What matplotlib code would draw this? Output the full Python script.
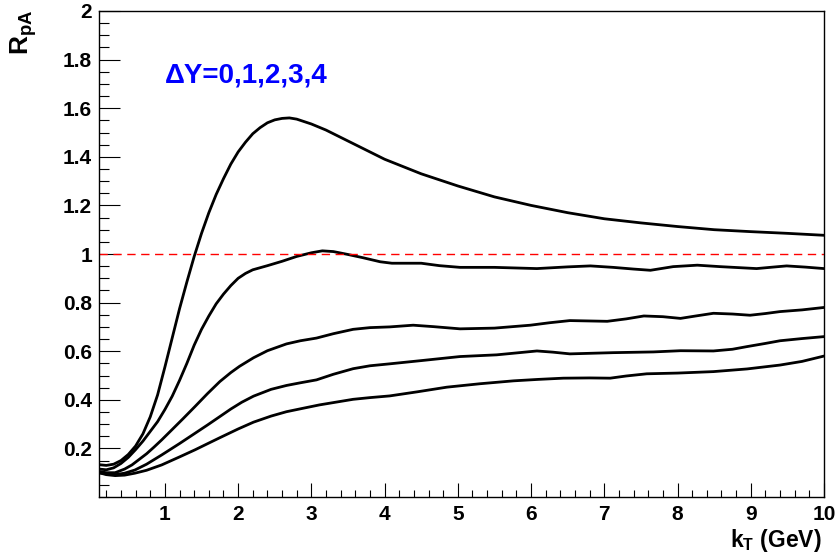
import matplotlib
matplotlib.use("Agg")
import matplotlib.pyplot as plt
from matplotlib.ticker import MultipleLocator
import numpy as np

plt.rcParams['font.family'] = ['Liberation Sans', 'DejaVu Sans']
plt.rcParams['font.weight'] = 'bold'
plt.rcParams['mathtext.fontset'] = 'custom'
plt.rcParams['mathtext.bf'] = 'Liberation Sans:bold'
plt.rcParams['mathtext.rm'] = 'Liberation Sans:bold'

# R_pA vs k_T for rapidity intervals dY = 0..4 (top to bottom)
x_dy0 = [0.1, 0.2, 0.3, 0.4, 0.5, 0.6, 0.7, 0.8, 0.9, 1.0, 1.1, 1.2, 1.3, 1.4, 1.5, 1.6, 1.7,
         1.8, 1.9, 2.0, 2.1, 2.2, 2.3, 2.4, 2.5, 2.6, 2.7, 2.8, 2.9, 3.0, 3.2, 3.4, 3.6, 3.8,
         4.0, 4.25, 4.5, 4.75, 5.0, 5.5, 6.0, 6.5, 7.0, 7.5, 8.0, 8.5, 9.0, 9.5, 10.0]
y_dy0 = [0.133, 0.130, 0.135, 0.150, 0.175, 0.21, 0.26, 0.33, 0.42, 0.535, 0.655, 0.775, 0.885,
         0.99, 1.085, 1.17, 1.245, 1.31, 1.37, 1.42, 1.46, 1.495, 1.52, 1.54, 1.552, 1.558, 1.56,
         1.555, 1.545, 1.535, 1.51, 1.48, 1.45, 1.42, 1.39, 1.36, 1.33, 1.305, 1.28, 1.235, 1.20,
         1.17, 1.145, 1.128, 1.113, 1.10, 1.092, 1.085, 1.077]

x_dy1 = [0.1, 0.2, 0.3, 0.4, 0.5, 0.6, 0.7, 0.8, 0.9, 1.0, 1.1, 1.2, 1.3, 1.4, 1.5, 1.6, 1.7,
         1.8, 1.9, 2.0, 2.1, 2.2, 2.4, 2.6, 2.8, 3.0, 3.15, 3.3, 3.5, 3.7, 3.94, 4.1, 4.5, 4.75,
         5.03, 5.5, 6.08, 6.5, 6.81, 7.12, 7.4, 7.63, 7.94, 8.27, 8.58, 9.08, 9.3, 9.49, 9.75, 10.0]
y_dy1 = [0.115, 0.112, 0.12, 0.138, 0.163, 0.195, 0.23, 0.27, 0.31, 0.36, 0.415, 0.48, 0.55,
         0.625, 0.69, 0.745, 0.795, 0.835, 0.87, 0.90, 0.92, 0.935, 0.952, 0.97, 0.99, 1.005,
         1.013, 1.01, 0.998, 0.985, 0.968, 0.962, 0.962, 0.952, 0.945, 0.945, 0.94, 0.947, 0.951,
         0.945, 0.938, 0.933, 0.948, 0.954, 0.948, 0.94, 0.946, 0.951, 0.946, 0.94]

x_dy2 = [0.1, 0.2, 0.32, 0.45, 0.55, 0.637, 0.75, 0.85, 0.956, 1.1, 1.25, 1.41, 1.58, 1.75, 1.9,
         2.02, 2.21, 2.4, 2.66, 2.85, 3.07, 3.3, 3.57, 3.8, 4.07, 4.39, 4.67, 5.03, 5.5, 5.99,
         6.25, 6.53, 7.04, 7.3, 7.54, 7.8, 8.04, 8.25, 8.49, 8.75, 8.99, 9.2, 9.4, 9.7, 10.0]
y_dy2 = [0.105, 0.100, 0.100, 0.115, 0.132, 0.152, 0.178, 0.205, 0.235, 0.278, 0.323, 0.372,
         0.425, 0.475, 0.512, 0.538, 0.573, 0.602, 0.63, 0.643, 0.654, 0.672, 0.69, 0.697, 0.70,
         0.707, 0.701, 0.692, 0.695, 0.707, 0.717, 0.726, 0.723, 0.733, 0.745, 0.742, 0.735,
         0.745, 0.756, 0.753, 0.748, 0.755, 0.763, 0.77, 0.78]

x_dy3 = [0.1, 0.2, 0.32, 0.45, 0.59, 0.75, 0.956, 1.2, 1.41, 1.58, 1.75, 1.9, 2.05, 2.21, 2.45,
         2.66, 2.85, 3.07, 3.3, 3.57, 3.8, 4.07, 4.49, 5.03, 5.53, 6.08, 6.3, 6.53, 7.12, 7.67,
         8.04, 8.49, 8.75, 8.95, 9.2, 9.4, 9.7, 10.0]
y_dy3 = [0.10, 0.095, 0.092, 0.098, 0.111, 0.135, 0.173, 0.22, 0.262, 0.296, 0.331, 0.362, 0.39,
         0.415, 0.443, 0.459, 0.47, 0.482, 0.505, 0.528, 0.54, 0.548, 0.561, 0.578, 0.585, 0.601,
         0.596, 0.589, 0.594, 0.597, 0.602, 0.601, 0.608, 0.619, 0.632, 0.643, 0.652, 0.66]

x_dy4 = [0.1, 0.2, 0.32, 0.45, 0.59, 0.75, 0.956, 1.2, 1.41, 1.6, 1.75, 2.0, 2.21, 2.45, 2.66,
         2.9, 3.11, 3.35, 3.57, 3.8, 4.07, 4.45, 4.85, 5.3, 5.76, 6.1, 6.44, 6.8, 7.08, 7.3, 7.58,
         8.0, 8.49, 8.95, 9.4, 9.7, 10.0]
y_dy4 = [0.10, 0.092, 0.088, 0.09, 0.098, 0.11, 0.132, 0.165, 0.194, 0.222, 0.244, 0.28, 0.308,
         0.333, 0.351, 0.366, 0.379, 0.391, 0.402, 0.409, 0.416, 0.433, 0.452, 0.466, 0.478, 0.484,
         0.489, 0.49, 0.489, 0.498, 0.507, 0.51, 0.516, 0.527, 0.543, 0.558, 0.58]

curves = [(x_dy0, y_dy0), (x_dy1, y_dy1), (x_dy2, y_dy2), (x_dy3, y_dy3), (x_dy4, y_dy4)]

ytick_vals = [0.2, 0.4, 0.6, 0.8, 1.0, 1.2, 1.4, 1.6, 1.8, 2.0]
ytick_labels = ['0.2', '0.4', '0.6', '0.8', '1', '1.2', '1.4', '1.6', '1.8', '2']
xtick_vals = [1, 2, 3, 4, 5, 6, 7, 8, 9, 10]

fig = plt.figure(figsize=(8.38, 5.56), dpi=100)
ax = fig.add_axes([99/838, 1 - 497/556, 725/838, 486/556])

for xs, ys in curves:
    ax.plot(xs, ys, color='black', lw=2.0, solid_joinstyle='round', solid_capstyle='round')

ax.axhline(1.0, color='red', lw=1.0, ls=(0, (6, 4)))

ax.set_xlim(0.1, 10)
ax.set_ylim(0, 2)
ax.set_xticks(xtick_vals)
ax.set_xticklabels([str(v) for v in xtick_vals], fontweight='bold', fontsize=15)
ax.set_yticks(ytick_vals)
ax.set_yticklabels(ytick_labels, fontweight='bold', fontsize=15)
ax.xaxis.set_minor_locator(MultipleLocator(0.2))
ax.yaxis.set_minor_locator(MultipleLocator(0.05))

ax.tick_params(axis='both', which='both', direction='in', top=False, right=False, width=0.8)
ax.tick_params(axis='x', which='major', length=10, pad=6)
ax.tick_params(axis='x', which='minor', length=5)
ax.tick_params(axis='y', which='major', length=15, pad=5)
ax.tick_params(axis='y', which='minor', length=7.5)
for sp in ax.spines.values():
    sp.set_linewidth(1.0)

fig.text(24/838, 1 - 10/556, r'$\mathbf{R_{pA}}$', rotation=90, ha='center', va='top', fontsize=19)
fig.text(822/838, 1 - 547/556, r'$\mathbf{k_{T}}$ (GeV)', ha='right', va='baseline',
         fontsize=16.5, fontweight='bold')

ax.text(0.091, 0.852, 'ΔY=0,1,2,3,4', transform=ax.transAxes, color='#0000ff',
        fontsize=20, fontweight='bold', ha='left', va='baseline')

fig.savefig('out.png', dpi=100)
